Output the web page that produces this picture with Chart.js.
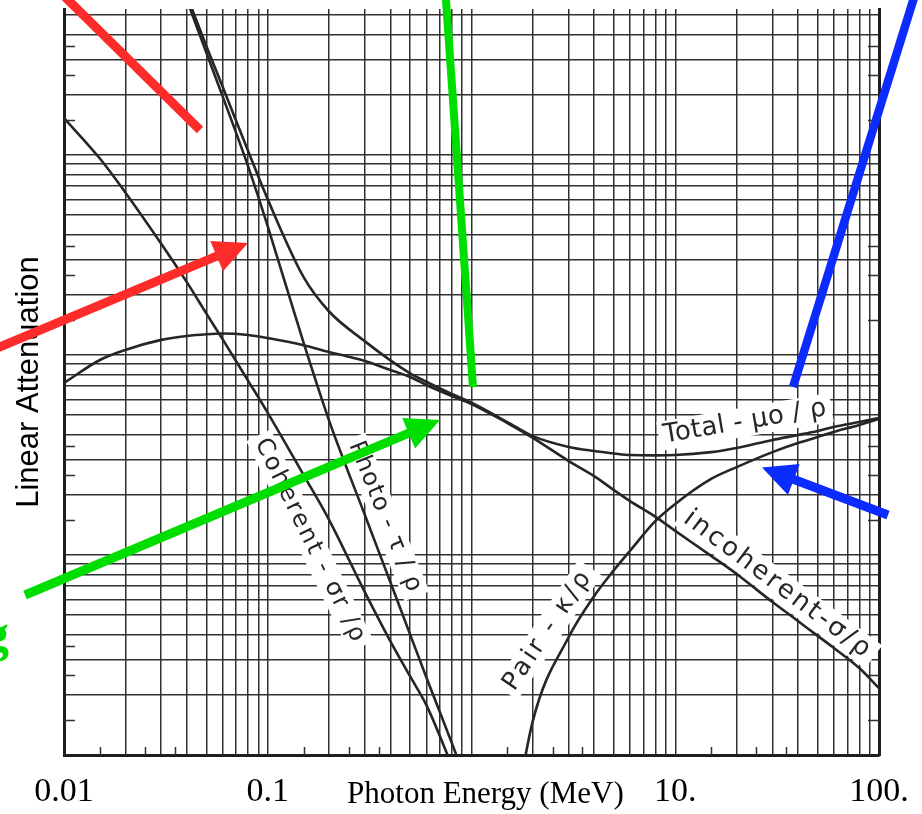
<!DOCTYPE html>
<html>
<head>
<meta charset="utf-8">
<title>Photon interaction coefficients</title>
<script src="https://cdn.jsdelivr.net/npm/chart.js@4.4.1/dist/chart.umd.min.js"></script>
<style>
  html, body { margin: 0; padding: 0; background: #ffffff; }
  canvas { display: block; }
</style>
</head>
<body>
<canvas id="chart" width="922" height="814"></canvas>
<script>
// ---- Values --------------------------------------------------------------
// Photon energy grid (MeV) shared by every curve
const energies = [0.01, 0.015, 0.02, 0.03, 0.04, 0.05, 0.06, 0.08, 0.1, 0.15, 0.2, 0.3, 0.4, 0.5, 0.6, 0.8,
                  1, 1.5, 2, 3, 4, 5, 6, 8, 10, 15, 20, 30, 40, 50, 60, 80, 100];

// Coefficients per unit density; null where a curve leaves the sheet
const totalMu = [null, null, null, null, 6.3, 3.5, 2.2, 1.05, 0.6, 0.245, 0.165, 0.117, 0.094, 0.081, 0.0735, 0.0638,
                 0.0578, 0.0462, 0.0393, 0.0347, 0.0331, 0.0322, 0.0316, 0.0315, 0.0316, 0.0327, 0.0343, 0.0376, 0.0398, 0.0417, 0.0437, 0.0462, 0.0484];
const photoTau = [null, null, null, null, 6.0, 3.24, 1.97, 0.88, 0.44, 0.115, 0.047, 0.0158, 0.0073, 0.0040, 0.00245, 0.00115,
                  0.00063, null, null, null, null, null, null, null, null, null, null, null, null, null, null, null, null];
const coherentSigma = [1.53, 0.96, 0.65, 0.36, 0.232, 0.161, 0.12, 0.0745, 0.0514, 0.0251, 0.015, 0.0065, 0.0037, 0.00247, 0.00178, 0.00089,
                       null, null, null, null, null, null, null, null, null, null, null, null, null, null, null, null, null];
const incoherentSigma = [0.0724, 0.0944, 0.106, 0.119, 0.1245, 0.127, 0.128, 0.126, 0.1216, 0.112, 0.1035, 0.0933, 0.0841, 0.0776, 0.0708, 0.0624,
                         0.0569, 0.0457, 0.0385, 0.0295, 0.0248, 0.0211, 0.0186, 0.0155, 0.0132, 0.0099, 0.00804, 0.00582, 0.00468, 0.00394, 0.00343, 0.00272, 0.00216];
const pairKappa = [null, null, null, null, null, null, null, null, null, null, null, null, null, null, null, null,
                   null, 0.0003, 0.00148, 0.00389, 0.00624, 0.0084, 0.0105, 0.0148, 0.018, 0.024, 0.0275, 0.0327, 0.0363, 0.0389, 0.0412, 0.0447, 0.0479];

// Axis ranges, decades and labels
const energyMin = 0.01, energyMax = 100;
const coeffMin = 0.001, coeffMax = 5.37;
const energyDecades = [0.01, 0.1, 1, 10];
const coeffDecades = [0.001, 0.01, 0.1, 1];
const gridMultipliers = [1, 2, 3, 4, 5, 6, 7, 8, 9];
const edgeTickMultipliers = [1.5, 2.5, 3.5];
const labelledEnergies = [0.01, 0.1, 10, 100];
const energyLabelTexts = ['0.01', '0.1', '10.', '100.'];

// ---- Styling and placement ----------------------------------------------
const gridColor = '#313131';
const curveColor = '#262626';
const borderColor = '#1e1e1e';
const captionEnergy = 1.17;

// Names written along the curves: anchor (energy, coefficient), rotation in degrees
const curveLabels = [
  { text: 'Coherent - σr /ρ', energy: 0.1612, value: 0.01175, angle: 64, size: 24, spacing: 2.2 },
  { text: 'Photo - τ / ρ',    energy: 0.376,  value: 0.0155,  angle: 68, size: 24, spacing: 1.2 },
  { text: 'Total - μo / ρ',   energy: 22.0,   value: 0.0462,  angle: -9.6, size: 26, spacing: 0.3 },
  { text: 'incoherent-σ/ρ',   energy: 31.9,   value: 0.00708, angle: 37, size: 26, spacing: 2.8 },
  { text: 'Pair - κ/ρ',       energy: 2.375,  value: 0.00422, angle: -56, size: 25, spacing: 3 }
];

// Highlight strokes and arrows, ends given as (energy, coefficient)
const pointers = [
  { color: '#fe2b2b', from: [0.00956, 6.53],   to: [0.0465, 1.334],  head: false, width: 9 },
  { color: '#fe2b2b', from: [0.00434, 0.1047], to: [0.080, 0.363],   head: true,  width: 9 },
  { color: '#00dd00', from: [0.746, 6.38],     to: [1.017, 0.0692],  head: false, width: 8 },
  { color: '#00dd00', from: [0.00644, 0.00631],to: [0.7005, 0.0473], head: true,  width: 9 },
  { color: '#0c2bff', from: [152, 6.6],        to: [37.84, 0.0692],  head: false, width: 8.5 },
  { color: '#0c2bff', from: [110.7, 0.01585],  to: [26.66, 0.02739], head: true,  width: 9 }
];

// ---- Helpers -------------------------------------------------------------
function decadeTicks(decades, multipliers, max) {
  const out = [];
  decades.forEach(d => multipliers.forEach(m => {
    const v = +(d * m).toPrecision(6);
    if (v <= max * 1.000001) out.push(v);
  }));
  return out;
}

function series(values) {
  return energies.map((e, i) => ({ x: e, y: values[i] })).filter(p => p.y !== null);
}

function curve(label, values) {
  return {
    label,
    data: series(values),
    borderColor: curveColor,
    borderWidth: 2.6,
    pointRadius: 0,
    fill: false,
    cubicInterpolationMode: 'monotone'
  };
}

function drawPointer(ctx, p0, p1, color, width, head) {
  const dx = p1[0] - p0[0], dy = p1[1] - p0[1];
  const len = Math.hypot(dx, dy);
  const ux = dx / len, uy = dy / len;
  const headLen = 34, headHalf = 16.5;
  const shaftEnd = head ? [p1[0] - ux * (headLen - 2), p1[1] - uy * (headLen - 2)] : p1;
  ctx.strokeStyle = color;
  ctx.fillStyle = color;
  ctx.lineWidth = width;
  ctx.lineCap = 'butt';
  ctx.beginPath();
  ctx.moveTo(p0[0], p0[1]);
  ctx.lineTo(shaftEnd[0], shaftEnd[1]);
  ctx.stroke();
  if (head) {
    const bx = p1[0] - ux * headLen, by = p1[1] - uy * headLen;
    ctx.beginPath();
    ctx.moveTo(p1[0], p1[1]);
    ctx.lineTo(bx - uy * headHalf, by + ux * headHalf);
    ctx.lineTo(bx + uy * headHalf, by - ux * headHalf);
    ctx.closePath();
    ctx.fill();
  }
}

// ---- Plugin: paper details, curve names, caption, highlights --------------
const sheetDetails = {
  id: 'sheetDetails',
  beforeDatasetsDraw(chart) {
    const { ctx, chartArea: a, scales: { x, y } } = chart;
    ctx.save();
    // short marks at 1.5, 2.5 and 3.5 of each decade along the edges
    ctx.strokeStyle = gridColor;
    ctx.lineWidth = 1.5;
    ctx.beginPath();
    energyDecades.forEach(d => edgeTickMultipliers.forEach(m => {
      const px = Math.round(x.getPixelForValue(d * m)) + 0.5;
      ctx.moveTo(px, a.bottom);
      ctx.lineTo(px, a.bottom - 8);
    }));
    coeffDecades.forEach(d => edgeTickMultipliers.forEach(m => {
      const v = d * m;
      if (v > coeffMax) return;
      const py = Math.round(y.getPixelForValue(v)) + 0.5;
      ctx.moveTo(a.left, py); ctx.lineTo(a.left + 11, py);
      ctx.moveTo(a.right - 11, py); ctx.lineTo(a.right, py);
    }));
    ctx.stroke();

    // curve names on a white patch
    curveLabels.forEach(lab => {
      const px = x.getPixelForValue(lab.energy);
      const py = y.getPixelForValue(lab.value);
      ctx.save();
      ctx.translate(px, py);
      ctx.rotate(lab.angle * Math.PI / 180);
      ctx.font = lab.size + 'px "DejaVu Sans", "Liberation Sans", sans-serif';
      if ('letterSpacing' in ctx) ctx.letterSpacing = lab.spacing + 'px';
      const w = ctx.measureText(lab.text).width;
      ctx.fillStyle = '#ffffff';
      ctx.fillRect(-w / 2 - 5, -lab.size * 0.56, w + 10, lab.size * 1.12);
      ctx.fillStyle = curveColor;
      ctx.textAlign = 'center';
      ctx.textBaseline = 'middle';
      ctx.fillText(lab.text, 0, 0);
      ctx.restore();
    });
    ctx.restore();
  },
  afterDraw(chart) {
    const { ctx, chartArea: a, scales: { x, y } } = chart;
    ctx.save();
    // axis caption between the 0.1 and 10. labels
    ctx.font = '31px "Liberation Serif", "Times New Roman", serif';
    ctx.fillStyle = '#000000';
    ctx.textAlign = 'center';
    ctx.textBaseline = 'alphabetic';
    ctx.fillText('Photon Energy (MeV)', x.getPixelForValue(captionEnergy), a.bottom + 48);

    // coloured highlight strokes
    pointers.forEach(p => {
      const p0 = [x.getPixelForValue(p.from[0]), y.getPixelForValue(p.from[1])];
      const p1 = [x.getPixelForValue(p.to[0]), y.getPixelForValue(p.to[1])];
      drawPointer(ctx, p0, p1, p.color, p.width, p.head);
    });

    // trailing letter of a side note
    ctx.font = 'bold 52px "Liberation Serif", serif';
    ctx.fillStyle = '#00dd00';
    ctx.textAlign = 'right';
    ctx.textBaseline = 'alphabetic';
    ctx.fillText('g', 9, 651);
    ctx.restore();
  }
};

// ---- Chart ---------------------------------------------------------------
new Chart(document.getElementById('chart'), {
  type: 'line',
  data: {
    datasets: [
      curve('Total - μo/ρ', totalMu),
      curve('Photo - τ/ρ', photoTau),
      curve('Coherent - σr/ρ', coherentSigma),
      curve('incoherent - σ/ρ', incoherentSigma),
      curve('Pair - κ/ρ', pairKappa)
    ]
  },
  options: {
    responsive: false,
    animation: false,
    events: [],
    devicePixelRatio: 1,
    layout: { padding: { left: 0, right: 43, top: 9, bottom: 0 } },
    plugins: { legend: { display: false }, tooltip: { enabled: false } },
    scales: {
      x: {
        type: 'logarithmic',
        position: 'bottom',
        min: energyMin,
        max: energyMax,
        afterBuildTicks: s => {
          s.ticks = decadeTicks(energyDecades, gridMultipliers, energyMax).concat([energyMax]).map(v => ({ value: v }));
        },
        afterFit: s => { s.height = 59; s.paddingLeft = 0; s.paddingRight = 0; },
        grid: { color: gridColor, lineWidth: 1.5, drawTicks: false },
        border: { display: true, color: borderColor, width: 3 },
        ticks: {
          autoSkip: false,
          maxRotation: 0,
          minRotation: 0,
          padding: 17,
          color: '#000000',
          font: { family: '"Liberation Serif", "Times New Roman", serif', size: 34 },
          callback: value => {
            const i = labelledEnergies.findIndex(e => Math.abs(e - value) / e < 1e-6);
            return i >= 0 ? energyLabelTexts[i] : '';
          }
        }
      },
      y: {
        type: 'logarithmic',
        position: 'left',
        min: coeffMin,
        max: coeffMax,
        afterBuildTicks: s => {
          s.ticks = decadeTicks(coeffDecades, gridMultipliers, coeffMax).map(v => ({ value: v }));
        },
        afterFit: s => { s.width = 64; s.paddingTop = 0; s.paddingBottom = 0; },
        grid: { color: gridColor, lineWidth: 1.5, drawTicks: false },
        border: { display: true, color: borderColor, width: 3 },
        ticks: { display: false },
        title: {
          display: true,
          text: 'Linear Attenuation',
          color: '#000000',
          font: { family: '"Liberation Sans", Arial, sans-serif', size: 31 },
          padding: { top: 11, bottom: 0 }
        }
      },
      yEdge: {
        type: 'logarithmic',
        position: 'right',
        min: coeffMin,
        max: coeffMax,
        afterFit: s => { s.width = 0; s.paddingTop = 0; s.paddingBottom = 0; },
        grid: { drawOnChartArea: false, drawTicks: false },
        border: { display: true, color: borderColor, width: 3 },
        ticks: { display: false }
      }
    }
  },
  plugins: [sheetDetails]
});
</script>
</body>
</html>
